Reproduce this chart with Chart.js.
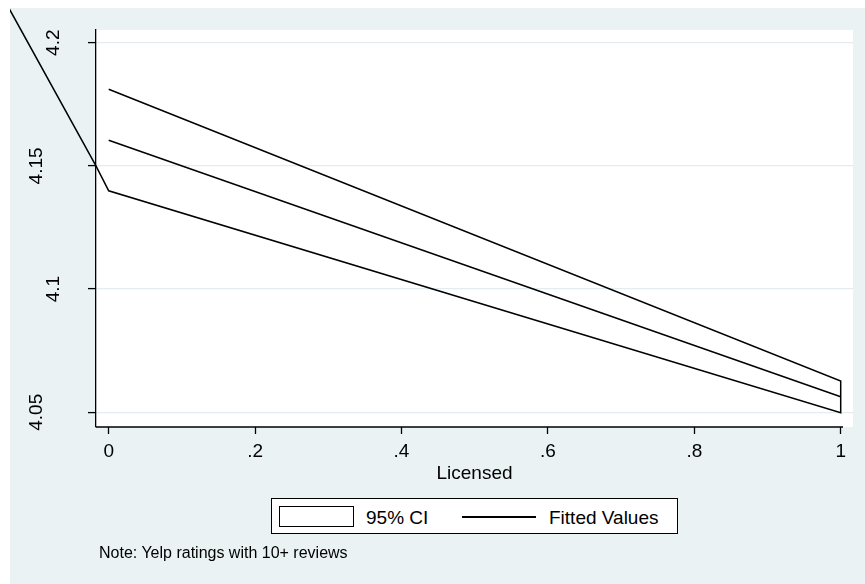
<!DOCTYPE html>
<html>
<head>
<meta charset="utf-8">
<title>Fitted values by license status</title>
<script src="https://cdn.jsdelivr.net/npm/chart.js@4.4.1/dist/chart.umd.min.js"></script>
<style>
  html, body { margin: 0; padding: 0; background: #fff; }
  body { width: 865px; height: 584px; position: relative; overflow: hidden;
         font-family: "Liberation Sans", Arial, Helvetica, sans-serif; color: #000; }
  #graph { position: absolute; left: 10px; top: 8px; width: 855px; height: 576px; background: #eaf2f3; }
  #chart { position: absolute; left: 0; top: 0; }
  #legend { position: absolute; left: 261px; top: 490px; width: 407px; height: 36px;
            box-sizing: border-box; border: 1px solid #000; background: #fff; }
  #legend .key-area { position: absolute; left: 7px; top: 7px; width: 75px; height: 21px;
                      box-sizing: border-box; border: 1.5px solid #000; background: #fff; }
  #legend .key-line { position: absolute; left: 190px; top: 17px; width: 74px; height: 1.5px; background: #000; }
  #legend .label { position: absolute; top: 9px; font-size: 19px; line-height: 19px; white-space: nowrap; }
  #note { position: absolute; left: 89px; top: 537px; font-size: 16px; line-height: 16px; white-space: nowrap; }
</style>
</head>
<body>
<div id="graph">
  <canvas id="chart" width="855" height="576"></canvas>
  <div id="legend"></div>
  <div id="note"></div>
</div>
<script>
// values
const xValues = [0, 1];
const ciUpper = [4.1811, 4.0627];
const ciLower = [4.1399, 4.0498];
const fitted = [4.1604, 4.0563];

// the CI outline's closing edge runs off to the upper left in the original
const strayX = [-0.0174, -0.1424];
const strayY = [4.1500, 4.2173];

const xTicks = [0, 0.2, 0.4, 0.6, 0.8, 1];
const xTickLabels = ["0", ".2", ".4", ".6", ".8", "1"];
const yTicks = [4.05, 4.1, 4.15, 4.2];
const yTickLabels = ["4.05", "4.1", "4.15", "4.2"];

const legendLabels = ["95% CI", "Fitted Values"];
const xTitle = "Licensed";
const noteText = "Note: Yelp ratings with 10+ reviews";

const FONT = "'Liberation Sans', Arial, Helvetica, sans-serif";

// outline of the CI area: upper edge, right edge, lower edge back, then the stray edge
function ciOutline() {
  const pts = [];
  xValues.forEach((x, i) => pts.push({ x: x, y: ciUpper[i] }));
  for (let i = xValues.length - 1; i >= 0; i--) pts.push({ x: xValues[i], y: ciLower[i] });
  strayX.forEach((x, i) => pts.push({ x: x, y: strayY[i] }));
  return pts;
}

const plotBackground = {
  id: "plotBackground",
  beforeDraw(chart) {
    const { ctx, chartArea: a } = chart;
    ctx.save();
    ctx.fillStyle = "#fff";
    ctx.fillRect(a.left, a.top, a.right - a.left, a.bottom - a.top);
    ctx.restore();
  },
  afterDraw(chart) {
    // x axis line stops a little short of the plot region edge, as in Stata
    const { ctx, chartArea: a } = chart;
    ctx.save();
    ctx.strokeStyle = "#000";
    ctx.lineWidth = 1.3;
    ctx.beginPath();
    ctx.moveTo(a.left, a.bottom);
    ctx.lineTo(a.right - 10, a.bottom);
    ctx.stroke();
    ctx.restore();
  }
};

function fixedTicks(values) {
  return function (scale) {
    scale.ticks = values.map((v) => ({ value: v }));
  };
}

// Stata staggers the vertical y labels: every other one sits closer to the axis
function yLabel(v) {
  const i = yTicks.indexOf(v);
  const text = yTickLabels[i];
  return i % 2 === 0 ? [text, ""] : ["", text];
}

new Chart(document.getElementById("chart").getContext("2d"), {
  type: "scatter",
  data: {
    datasets: [
      {
        label: legendLabels[0],
        data: ciOutline(),
        showLine: true,
        borderColor: "#000",
        borderWidth: 1.5,
        pointRadius: 0,
        fill: false,
        clip: false
      },
      {
        label: legendLabels[1],
        data: xValues.map((x, i) => ({ x: x, y: fitted[i] })),
        showLine: true,
        borderColor: "#000",
        borderWidth: 1.5,
        pointRadius: 0,
        fill: false
      }
    ]
  },
  options: {
    responsive: false,
    animation: false,
    layout: { padding: { top: 22, right: 12, bottom: 99, left: 0 } },
    plugins: {
      legend: { display: false },
      tooltip: { enabled: false }
    },
    scales: {
      x: {
        type: "linear",
        min: -0.01735,
        max: 1.0168,
        afterBuildTicks: fixedTicks(xTicks),
        afterFit(scale) {
          scale.height = 58;
          scale.paddingLeft = 0;
          scale.paddingRight = 0;
        },
        border: { display: false },
        grid: { drawOnChartArea: false, tickLength: 7, tickColor: "#000", tickWidth: 1.3 },
        ticks: {
          padding: 6,
          color: "#000",
          font: { family: FONT, size: 19 },
          maxRotation: 0,
          autoSkip: false,
          callback: (v) => xTickLabels[xTicks.indexOf(v)]
        },
        title: {
          display: true,
          text: xTitle,
          color: "#000",
          font: { family: FONT, size: 19 },
          padding: { top: 0, bottom: 0 }
        }
      },
      y: {
        type: "linear",
        min: 4.04403,
        max: 4.20515,
        afterBuildTicks: fixedTicks(yTicks),
        afterFit(scale) {
          scale.width = 86;
          scale.paddingTop = 0;
          scale.paddingBottom = 0;
        },
        border: { display: true, color: "#000", width: 1.3 },
        grid: { color: "#e3edef", lineWidth: 1.2, tickLength: 8, tickColor: "#000", tickWidth: 1.3 },
        ticks: {
          padding: 24,
          color: "#000",
          crossAlign: "center",
          minRotation: 90,
          maxRotation: 90,
          autoSkip: false,
          font: { family: FONT, size: 19, lineHeight: 0.9 },
          callback: yLabel
        }
      }
    }
  },
  plugins: [plotBackground]
});

// legend box in Stata style
const legend = document.getElementById("legend");
legend.innerHTML =
  '<div class="key-area"></div>' +
  '<div class="label" style="left:94px">' + legendLabels[0] + '</div>' +
  '<div class="key-line"></div>' +
  '<div class="label" style="left:277px">' + legendLabels[1] + '</div>';

document.getElementById("note").textContent = noteText;
</script>
</body>
</html>
